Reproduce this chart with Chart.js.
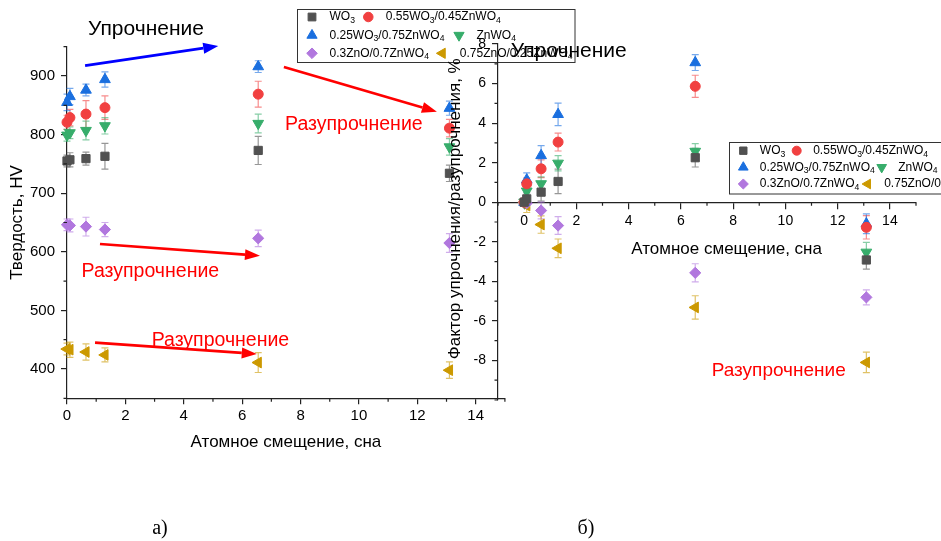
<!DOCTYPE html>
<html lang="ru">
<head>
<meta charset="utf-8">
<title>Твердость и фактор упрочнения</title>
<script src="https://cdn.jsdelivr.net/npm/chart.js@4.4.1/dist/chart.umd.min.js"></script>
<style>
  html, body { margin: 0; padding: 0; background: #fff; }
  #wrap { position: relative; width: 941px; height: 541px; overflow: hidden; }
  #wrap canvas { position: absolute; left: 0; top: 0; }
</style>
</head>
<body>
<div id="wrap">
  <canvas id="hv" width="941" height="541"></canvas>
  <canvas id="factor" width="941" height="541"></canvas>
</div>
<script>
// ---- data -------------------------------------------------------------
// irradiation dose, displacements per atom
const dpa = [0, 0.1, 0.65, 1.3, 6.55, 13.1];

// series names; "_n" marks a subscript digit
const seriesLabels = ['WO_3', '0.55WO_3/0.45ZnWO_4', '0.25WO_3/0.75ZnWO_4',
                      'ZnWO_4', '0.3ZnO/0.7ZnWO_4', '0.75ZnO/0.25ZnWO_4'];

// Vickers hardness, HV
const hvWO3   = [755, 757, 759, 763, 773, 734];
const hv55    = [821, 829, 835, 846, 869, 811];
const hv25    = [855, 865, 876, 894, 916, 845];
const hvZnWO4 = [799, 803, 807, 815, 819, 779];
const hvZnO30 = [646, 645, 643, 638, 623, 615];
const hvZnO75 = [434, 433, 429, 424, 411, 398];

// hardness scatter (±HV)
const hvErrWO3   = [10, 12, 11, 22, 24, 14];
const hvErr55    = [12, 14, 23, 20, 22, 15];
const hvErr25    = [14, 14, 10, 13, 10, 12];
const hvErrZnWO4 = [10, 10, 16, 14, 16, 14];
const hvErrZnO30 = [10, 11, 16, 12, 14, 16];
const hvErrZnO75 = [10, 13, 14, 12, 17, 14];

// hardening / softening factor, %
const fWO3   = [0, 0.17, 0.51, 1.05, 2.25, -2.92];
const f55    = [0, 0.93, 1.69, 3.04, 5.86, -1.27];
const f25    = [0, 1.13, 2.36, 4.44, 7.06, -1.09];
const fZnWO4 = [0, 0.56, 0.93, 1.97, 2.57, -2.53];
const fZnO30 = [0, -0.05, -0.42, -1.18, -3.57, -4.81];
const fZnO75 = [0, -0.17, -1.13, -2.33, -5.32, -8.10];

// factor scatter (±%)
const fErrWO3   = [0.15, 0.30, 0.45, 0.62, 0.47, 0.46];
const fErr55    = [0.20, 0.30, 0.45, 0.45, 0.56, 0.59];
const fErr25    = [0.20, 0.35, 0.50, 0.57, 0.40, 0.50];
const fErrZnWO4 = [0.20, 0.30, 0.35, 0.39, 0.39, 0.50];
const fErrZnO30 = [0.15, 0.25, 0.42, 0.45, 0.46, 0.38];
const fErrZnO75 = [0.15, 0.35, 0.44, 0.47, 0.59, 0.52];

// labelled tick values
const hvTickLabels     = [400, 500, 600, 700, 800, 900];
const dpaTickLabels    = [0, 2, 4, 6, 8, 10, 12, 14];
const factorTickLabels = [-8, -6, -4, -2, 0, 2, 4, 6, 8];

// ---- styling ----------------------------------------------------------
const FONT = '"Liberation Sans", Arial, sans-serif';
const AXIS = '#222';
const COLORS = ['#515151', '#F14040', '#1A6FDF', '#37AD6B', '#B177DE', '#CC9900'];
const MARKERS = [
  { style: 'rect',     rot: 0,   r: 5.8 },
  { style: 'circle',   rot: 0,   r: 5.0 },
  { style: 'triangle', rot: 0,   r: 6.2 },
  { style: 'triangle', rot: 180, r: 6.2 },
  { style: 'rectRot',  rot: 0,   r: 5.6 },
  { style: 'triangle', rot: 270, r: 6.2 }
];

Chart.defaults.font.family = FONT;
Chart.defaults.color = '#000';

function rgba(hex, a) {
  const n = parseInt(hex.slice(1), 16);
  return `rgba(${n >> 16},${(n >> 8) & 255},${n & 255},${a})`;
}
const plain = s => s.replace(/_/g, '');

function makeSets(values, errors) {
  return values.map((vals, i) => ({
    label: plain(seriesLabels[i]),
    data: dpa.map((x, j) => ({ x, y: vals[j] })),
    errors: errors[i],
    errorColor: rgba(COLORS[i], 0.6),
    showLine: false,
    clip: false,
    backgroundColor: COLORS[i],
    borderColor: COLORS[i],
    pointStyle: MARKERS[i].style,
    pointRotation: MARKERS[i].rot,
    pointRadius: MARKERS[i].r,
    pointHoverRadius: MARKERS[i].r,
    pointBorderWidth: 1
  }));
}

// vertical error bars with caps, drawn under the markers
const errorBars = {
  id: 'errorBars',
  beforeDatasetsDraw(chart) {
    const { ctx } = chart;
    const xs = chart.scales.x, ys = chart.scales.y;
    chart.data.datasets.forEach(ds => {
      ctx.save();
      ctx.strokeStyle = ds.errorColor;
      ctx.lineWidth = 1.2;
      ds.data.forEach((p, j) => {
        const e = ds.errors[j];
        const x = xs.getPixelForValue(p.x);
        const y1 = ys.getPixelForValue(p.y - e);
        const y2 = ys.getPixelForValue(p.y + e);
        ctx.beginPath();
        ctx.moveTo(x, y1); ctx.lineTo(x, y2);
        ctx.moveTo(x - 3.5, y1); ctx.lineTo(x + 3.5, y1);
        ctx.moveTo(x - 3.5, y2); ctx.lineTo(x + 3.5, y2);
        ctx.stroke();
      });
      ctx.restore();
    });
  }
};

// short unlabelled ticks between the labelled ones
function makeMinorTicks(xLabels, yLabels) {
  return {
    id: 'minorTicks',
    afterDraw(chart) {
      const { ctx } = chart;
      const xs = chart.scales.x, ys = chart.scales.y;
      const pos = xs.options.position;
      const base = typeof pos === 'object' ? ys.getPixelForValue(pos.y) : xs.top;
      ctx.save();
      ctx.strokeStyle = AXIS;
      ctx.lineWidth = 1.2;
      ctx.beginPath();
      xs.ticks.forEach(t => {
        if (xLabels.includes(t.value)) return;
        const px = xs.getPixelForValue(t.value);
        ctx.moveTo(px, base); ctx.lineTo(px, base + 3.5);
      });
      ys.ticks.forEach(t => {
        if (yLabels.includes(t.value)) return;
        const py = ys.getPixelForValue(t.value);
        ctx.moveTo(ys.right, py); ctx.lineTo(ys.right - 3.5, py);
      });
      ctx.stroke();
      ctx.restore();
    }
  };
}

// text with subscript digits
function drawRich(ctx, label, x, y, size) {
  let cx = x;
  label.split(/(_\d)/).filter(Boolean).forEach(part => {
    if (part[0] === '_') {
      const d = part.slice(1);
      ctx.font = `${size * 0.72}px ${FONT}`;
      ctx.fillText(d, cx, y + size * 0.3);
      cx += ctx.measureText(d).width;
    } else {
      ctx.font = `${size}px ${FONT}`;
      ctx.fillText(part, cx, y);
      cx += ctx.measureText(part).width;
    }
  });
}

// framed legend: items are [series, marker x, row]
function makeLegend(cfg) {
  return {
    id: 'legendBox',
    afterDraw(chart) {
      const { ctx } = chart;
      const [bx, by, bw, bh] = cfg.box;
      ctx.save();
      ctx.fillStyle = '#fff';
      ctx.fillRect(bx, by, bw, bh);
      ctx.strokeStyle = '#333';
      ctx.lineWidth = 1;
      ctx.strokeRect(bx, by, bw, bh);
      cfg.items.forEach(([s, mx, row]) => {
        const ds = chart.data.datasets[s];
        const y = cfg.rows[row];
        ctx.fillStyle = ds.backgroundColor;
        ctx.strokeStyle = ds.borderColor;
        ctx.lineWidth = 1;
        Chart.helpers.drawPoint(ctx, {
          pointStyle: ds.pointStyle, rotation: ds.pointRotation,
          radius: ds.pointRadius * cfg.scale, borderWidth: 1
        }, mx, y);
        ctx.fillStyle = '#000';
        ctx.textAlign = 'left';
        ctx.textBaseline = 'middle';
        drawRich(ctx, seriesLabels[s], mx + cfg.gap, y, cfg.size);
      });
      ctx.restore();
    }
  };
}

function arrow(ctx, x1, y1, x2, y2, color) {
  const a = Math.atan2(y2 - y1, x2 - x1);
  const head = 15, hw = 5.5;
  const bx = x2 - head * Math.cos(a), by = y2 - head * Math.sin(a);
  ctx.strokeStyle = color;
  ctx.fillStyle = color;
  ctx.lineWidth = 2.7;
  ctx.beginPath();
  ctx.moveTo(x1, y1); ctx.lineTo(bx, by);
  ctx.stroke();
  ctx.beginPath();
  ctx.moveTo(x2, y2);
  ctx.lineTo(bx + hw * Math.sin(a), by - hw * Math.cos(a));
  ctx.lineTo(bx - hw * Math.sin(a), by + hw * Math.cos(a));
  ctx.closePath();
  ctx.fill();
}

function note(ctx, text, x, y, size, color) {
  ctx.font = `${size}px ${FONT}`;
  ctx.fillStyle = color;
  ctx.textAlign = 'left';
  ctx.textBaseline = 'alphabetic';
  ctx.fillText(text, x, y);
}

function axisOptions(min, max, step, labels, fontSize, pad) {
  return {
    type: 'linear', min, max,
    ticks: {
      stepSize: step, autoSkip: false, maxRotation: 0, padding: pad,
      color: '#000', font: { size: fontSize },
      callback: v => labels.includes(v) ? String(v) : ''
    },
    grid: {
      drawOnChartArea: false, drawTicks: true, tickLength: 6, lineWidth: 1.2,
      tickColor: c => (c.tick && labels.includes(c.tick.value)) ? AXIS : 'rgba(0,0,0,0)'
    },
    border: { display: true, color: AXIS, width: 1.2 }
  };
}

// ---- a) hardness vs dose ---------------------------------------------
const notesA = {
  id: 'notesA',
  afterDraw(chart) {
    const { ctx } = chart;
    const { x, y } = chart.scales;
    const P = (vx, vy) => [x.getPixelForValue(vx), y.getPixelForValue(vy)];
    ctx.save();
    note(ctx, 'Упрочнение', ...P(0.72, 970), 21, '#000');
    arrow(ctx, ...P(0.62, 917.6), ...P(5.18, 951.2), '#0000FF');
    arrow(ctx, ...P(7.43, 915.4), ...P(12.67, 839), '#FF0000');
    note(ctx, 'Разупрочнение', ...P(7.47, 807.8), 19.5, '#FF0000');
    arrow(ctx, ...P(1.13, 613.3), ...P(6.61, 593.3), '#FF0000');
    note(ctx, 'Разупрочнение', ...P(0.5, 557), 19.5, '#FF0000');
    arrow(ctx, ...P(0.96, 444.9), ...P(6.5, 425.6), '#FF0000');
    note(ctx, 'Разупрочнение', ...P(2.9, 439.2), 19.5, '#FF0000');
    ctx.font = '20px "Liberation Serif", serif';
    ctx.fillStyle = '#000';
    ctx.textAlign = 'center';
    ctx.fillText('а)', 160, 534);
    ctx.restore();
  }
};

const xA = axisOptions(0, 15, 1, dpaTickLabels, 15, 3);
xA.position = 'bottom';
xA.title = { display: true, text: 'Атомное смещение, сна', color: '#000',
             font: { size: 17 }, padding: { top: 4, bottom: 0 } };
xA.afterFit = s => { s.height = 54.3; };

const yA = axisOptions(350, 950, 50, hvTickLabels, 15, 6);
yA.position = 'left';
yA.title = { display: true, text: 'Твердость, HV', color: '#000',
             font: { size: 17 }, padding: { top: 7, bottom: 0 } };
yA.afterFit = s => { s.width = 67; };

new Chart(document.getElementById('hv'), {
  type: 'scatter',
  data: {
    datasets: makeSets(
      [hvWO3, hv55, hv25, hvZnWO4, hvZnO30, hvZnO75],
      [hvErrWO3, hvErr55, hvErr25, hvErrZnWO4, hvErrZnO30, hvErrZnO75])
  },
  options: {
    responsive: false, animation: false, devicePixelRatio: 1,
    layout: { padding: { left: 0, top: 46.7, right: 436.1, bottom: 88.4 } },
    plugins: { legend: { display: false }, tooltip: { enabled: false } },
    scales: { x: xA, y: yA }
  },
  plugins: [errorBars, makeMinorTicks(dpaTickLabels, hvTickLabels), notesA,
    makeLegend({
      box: [297.5, 9.5, 277.5, 53], rows: [17, 35.3, 53.3], gap: 17.5, size: 12, scale: 0.95,
      items: [[0, 312, 0], [1, 368.3, 0], [2, 312, 1], [3, 459, 1], [4, 312, 2], [5, 442.3, 2]]
    })]
});

// ---- б) hardening factor vs dose -------------------------------------
const notesB = {
  id: 'notesB',
  afterDraw(chart) {
    const { ctx } = chart;
    const { x, y } = chart.scales;
    const P = (vx, vy) => [x.getPixelForValue(vx), y.getPixelForValue(vy)];
    ctx.save();
    note(ctx, 'Упрочнение', ...P(-0.51, 7.36), 21, '#000');
    note(ctx, 'Разупрочнение', ...P(7.18, -8.8), 19, '#FF0000');
    // axis titles
    ctx.fillStyle = '#000';
    ctx.font = `17px ${FONT}`;
    ctx.textAlign = 'center';
    ctx.textBaseline = 'middle';
    ctx.fillText('Атомное смещение, сна', x.getPixelForValue(7.75), y.getPixelForValue(0) + 47);
    ctx.save();
    ctx.translate(x.left - 43, y.getPixelForValue(-0.33));
    ctx.rotate(-Math.PI / 2);
    ctx.fillText('Фактор упрочнения/разупрочнения, %', 0, 0);
    ctx.restore();
    ctx.font = '20px "Liberation Serif", serif';
    ctx.textAlign = 'center';
    ctx.textBaseline = 'alphabetic';
    ctx.fillText('б)', 586, 534);
    ctx.restore();
  }
};

const xB = axisOptions(-1, 15, 1, dpaTickLabels, 14, 5);
xB.position = { y: 0 };

const yB = axisOptions(-10, 8, 1, factorTickLabels, 14, 6);
yB.position = 'left';
yB.afterFit = s => { s.width = 58; };

new Chart(document.getElementById('factor'), {
  type: 'scatter',
  data: {
    datasets: makeSets(
      [fWO3, f55, f25, fZnWO4, fZnO30, fZnO75],
      [fErrWO3, fErr55, fErr25, fErrZnWO4, fErrZnO30, fErrZnO75])
  },
  options: {
    responsive: false, animation: false, devicePixelRatio: 1,
    layout: { padding: { left: 440, top: 44, right: 25, bottom: 141 } },
    plugins: { legend: { display: false }, tooltip: { enabled: false } },
    scales: { x: xB, y: yB }
  },
  plugins: [errorBars, makeMinorTicks(dpaTickLabels, factorTickLabels), notesB,
    makeLegend({
      box: [729.5, 142.5, 230, 51.5], rows: [150.7, 167.3, 184], gap: 16.5, size: 12, scale: 0.9,
      items: [[0, 743.3, 0], [1, 796.7, 0], [2, 743.3, 1], [3, 881.7, 1], [4, 743.3, 2], [5, 867.7, 2]]
    })]
});
</script>
</body>
</html>
